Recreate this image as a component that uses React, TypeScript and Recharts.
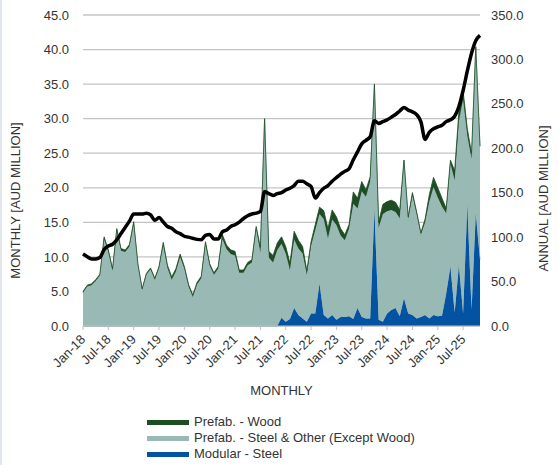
import { ComposedChart, Area, Line, XAxis, YAxis, CartesianGrid, Legend } from 'recharts'

const FONT = '"Liberation Sans", Arial, sans-serif'
const TEXT = '#333333'
const GRID = '#c4c4c4'

const MONTHS = [
  'Jan-18', 'Feb-18', 'Mar-18', 'Apr-18', 'May-18', 'Jun-18', 'Jul-18', 'Aug-18', 'Sep-18', 'Oct-18', 'Nov-18', 'Dec-18',
  'Jan-19', 'Feb-19', 'Mar-19', 'Apr-19', 'May-19', 'Jun-19', 'Jul-19', 'Aug-19', 'Sep-19', 'Oct-19', 'Nov-19', 'Dec-19',
  'Jan-20', 'Feb-20', 'Mar-20', 'Apr-20', 'May-20', 'Jun-20', 'Jul-20', 'Aug-20', 'Sep-20', 'Oct-20', 'Nov-20', 'Dec-20',
  'Jan-21', 'Feb-21', 'Mar-21', 'Apr-21', 'May-21', 'Jun-21', 'Jul-21', 'Aug-21', 'Sep-21', 'Oct-21', 'Nov-21', 'Dec-21',
  'Jan-22', 'Feb-22', 'Mar-22', 'Apr-22', 'May-22', 'Jun-22', 'Jul-22', 'Aug-22', 'Sep-22', 'Oct-22', 'Nov-22', 'Dec-22',
  'Jan-23', 'Feb-23', 'Mar-23', 'Apr-23', 'May-23', 'Jun-23', 'Jul-23', 'Aug-23', 'Sep-23', 'Oct-23', 'Nov-23', 'Dec-23',
  'Jan-24', 'Feb-24', 'Mar-24', 'Apr-24', 'May-24', 'Jun-24', 'Jul-24', 'Aug-24', 'Sep-24', 'Oct-24', 'Nov-24', 'Dec-24',
  'Jan-25', 'Feb-25', 'Mar-25', 'Apr-25', 'May-25', 'Jun-25', 'Jul-25', 'Aug-25', 'Sep-25', 'Oct-25', 'Nov-25',
]

// monthly, AUD million
const MODULAR_STEEL = [
  0, 0, 0, 0, 0, 0, 0, 0, 0, 0, 0, 0,
  0, 0, 0, 0, 0, 0, 0, 0, 0, 0, 0, 0,
  0, 0, 0, 0, 0, 0, 0, 0, 0, 0, 0, 0,
  0, 0, 0, 0, 0, 0, 0, 0, 0, 0, 0, 1.2,
  0.6, 1.0, 2.6, 1.6, 1.1, 0.6, 1.8, 1.8, 6.1, 1.6, 1.1, 1.6,
  0.9, 1.3, 1.3, 1.4, 1.0, 2.6, 1.3, 1.1, 1.1, 16.8, 0.9, 0.6,
  1.8, 2.3, 2.6, 1.4, 4.0, 1.8, 1.6, 1.1, 1.3, 1.6, 1.1, 1.6,
  1.4, 1.5, 4.7, 8.6, 1.9, 8.8, 1.8, 17.5, 2.3, 16.3, 9.6,
]

const PREFAB_STEEL_OTHER = [
  4.8, 5.7, 5.9, 6.5, 7.3, 12.6, 10.7, 8.0, 13.8, 10.9, 10.7, 11.5,
  14.8, 8.8, 5.2, 7.4, 8.2, 6.7, 8.4, 11.7, 8.4, 6.7, 7.9, 10.0,
  8.3, 5.7, 4.2, 6.0, 6.9, 11.9, 8.7, 7.4, 8.3, 12.6, 11.1, 10.4,
  10.2, 7.7, 7.7, 8.8, 9.2, 14.1, 10.6, 30.0, 9.9, 9.2, 11.0, 10.7,
  9.9, 7.1, 9.9, 9.6, 9.4, 6.8, 9.8, 12.1, 10.1, 13.9, 11.6, 13.8,
  13.7, 11.8, 11.1, 12.7, 16.7, 14.4, 18.2, 17.6, 19.8, 18.2, 13.3, 15.6,
  14.8, 14.5, 13.9, 14.2, 20.0, 13.7, 17.3, 15.1, 11.9, 13.4, 16.9, 18.5,
  17.2, 15.8, 11.6, 14.9, 19.2, 20.8, 31.0, 10.0, 21.9, 24.1, 16.4,
]

const PREFAB_WOOD = [
  0.2, 0.2, 0.2, 0.2, 0.2, 0.3, 0.3, 0.3, 0.3, 0.3, 0.3, 0.3,
  0.3, 0.2, 0.2, 0.2, 0.2, 0.2, 0.2, 0.4, 0.4, 0.4, 0.4, 0.4,
  0.3, 0.3, 0.3, 0.3, 0.3, 0.3, 0.3, 0.3, 0.3, 0.6, 0.6, 0.6,
  0.6, 0.4, 0.4, 0.4, 0.4, 0.3, 0.8, 0, 0.9, 1.0, 1.0, 1.0,
  1.0, 1.0, 1.2, 1.2, 1.0, 0.6, 0.6, 0.8, 1.0, 1.2, 1.4, 1.4,
  1.2, 1.0, 0.8, 0.6, 1.7, 1.5, 1.4, 1.0, 0.7, 0, 0.8, 1.4,
  1.4, 1.4, 1.4, 1.2, 0, 0.3, 0.4, 0.3, 0.3, 0.5, 1.0, 1.4,
  1.4, 1.2, 0.7, 0.5, 1.4, 1.4, 1.2, 1.0, 0.8, 0, 0,
]

// rolling annual, AUD million (right axis)
const ANNUAL = [
  81, 78, 75.5, 75.5, 77, 86, 90, 92, 97, 104, 111, 118,
  126, 126, 126, 127, 125, 119, 122, 117, 112, 110, 106, 104,
  101, 100, 98.7, 97.5, 97, 102, 103, 98, 98, 106, 108, 112,
  114, 117, 121, 124, 126, 127, 129, 151, 149, 147, 149, 150,
  153, 155, 158, 163, 163, 160, 157, 144, 150, 155, 158, 163,
  167, 171, 174, 177, 187, 196, 205, 209, 213, 231, 228, 230,
  232, 235, 238, 242, 246, 243, 241, 238, 230, 210, 218, 222,
  224, 226, 230, 232, 236, 247, 265, 287, 307, 321, 327,
]

const LEFT_TICKS = [0, 5, 10, 15, 20, 25, 30, 35, 40, 45]
const RIGHT_TICKS = [0, 50, 100, 150, 200, 250, 300, 350]

const SERIES = [
  { key: 'wood', name: 'Prefab. - Wood', color: '#1e4d24' },
  { key: 'steel', name: 'Prefab. - Steel & Other (Except Wood)', color: '#98b9b4' },
  { key: 'modular', name: 'Modular - Steel', color: '#0453a3' },
]

const data = MONTHS.map((month, i) => ({
  month,
  modular: MODULAR_STEEL[i],
  steel: PREFAB_STEEL_OTHER[i],
  wood: PREFAB_WOOD[i],
  annual: ANNUAL[i],
}))

const colorOf = (key: string) => SERIES.find(s => s.key === key)!.color

function MonthTick({ x, y, payload }: any) {
  return (
    <g transform={`translate(${x},${y + 5})`}>
      <text
        x={0}
        y={0}
        dy="0.35em"
        textAnchor="end"
        transform="rotate(-45)"
        fontSize={13}
        fontFamily={FONT}
        fill={TEXT}
      >
        {payload.value}
      </text>
    </g>
  )
}

function AxisTitle({ x, y, angle, text }: { x: number; y: number; angle: number; text: string }) {
  return (
    <text
      x={x}
      y={y}
      transform={angle ? `rotate(${angle} ${x} ${y})` : undefined}
      textAnchor="middle"
      dominantBaseline="central"
      fontSize={13}
      fontFamily={FONT}
      fill={TEXT}
    >
      {text}
    </text>
  )
}

function LegendBox() {
  return (
    <div style={{ fontFamily: FONT, fontSize: 13, color: TEXT, lineHeight: '16px' }}>
      {SERIES.map(s => (
        <div key={s.key} style={{ display: 'flex', alignItems: 'center', height: 16 }}>
          <span style={{ width: 42, height: 5, background: s.color, marginRight: 5, flexShrink: 0 }} />
          <span style={{ whiteSpace: 'nowrap' }}>{s.name}</span>
        </div>
      ))}
    </div>
  )
}

export default function App() {
  return (
    <div
      style={{
        position: 'absolute',
        left: 0,
        top: 0,
        width: 559,
        height: 465,
        background: '#fff',
        borderLeft: '2px solid #e2e7ee',
        boxSizing: 'border-box',
      }}
    >
      <ComposedChart
        width={557}
        height={465}
        data={data}
        margin={{ top: 15, right: 0, bottom: 79, left: 0 }}
        style={{ marginLeft: -2 }}
      >
        <CartesianGrid yAxisId="left" vertical={false} stroke={GRID} strokeWidth={1.3} />
        <XAxis
          dataKey="month"
          interval={5}
          height={60}
          tick={<MonthTick />}
          tickSize={4}
          tickMargin={2}
          axisLine={{ stroke: '#bfbfbf' }}
          tickLine={{ stroke: '#bfbfbf' }}
          label={{
            content: ({ viewBox }: any) => (
              <AxisTitle x={viewBox.x + viewBox.width / 2} y={viewBox.y + viewBox.height + 4} angle={0} text="MONTHLY" />
            ),
          }}
        />
        <YAxis
          yAxisId="left"
          orientation="left"
          width={83}
          domain={[0, 45]}
          ticks={LEFT_TICKS}
          interval={0}
          tickFormatter={(v: number) => v.toFixed(1)}
          axisLine={false}
          tickLine={false}
          tickMargin={8}
          tick={{ fontSize: 13, fill: TEXT, fontFamily: FONT }}
          label={{
            content: ({ viewBox }: any) => (
              <AxisTitle x={15} y={viewBox.y + viewBox.height / 2 + 30} angle={-90} text="MONTHLY [AUD MILLION]" />
            ),
          }}
        />
        <YAxis
          yAxisId="right"
          orientation="right"
          width={77}
          domain={[0, 350]}
          ticks={RIGHT_TICKS}
          interval={0}
          tickFormatter={(v: number) => v.toFixed(1)}
          axisLine={false}
          tickLine={false}
          tickMargin={5}
          tick={{ fontSize: 13, fill: TEXT, fontFamily: FONT }}
          label={{
            content: ({ viewBox }: any) => (
              <AxisTitle x={viewBox.x + 63} y={viewBox.y + viewBox.height / 2 + 28} angle={-90} text="ANNUAL [AUD MILLION]" />
            ),
          }}
        />
        <Area
          yAxisId="left"
          type="linear"
          dataKey="modular"
          stackId="m"
          name="Modular - Steel"
          fill={colorOf('modular')}
          stroke={colorOf('modular')}
          strokeWidth={0.5}
          fillOpacity={1}
          isAnimationActive={false}
        />
        <Area
          yAxisId="left"
          type="linear"
          dataKey="steel"
          stackId="m"
          name="Prefab. - Steel & Other (Except Wood)"
          fill={colorOf('steel')}
          stroke={colorOf('steel')}
          strokeWidth={0.8}
          fillOpacity={1}
          isAnimationActive={false}
        />
        <Area
          yAxisId="left"
          type="linear"
          dataKey="wood"
          stackId="m"
          name="Prefab. - Wood"
          fill={colorOf('wood')}
          stroke={colorOf('wood')}
          strokeWidth={0.8}
          fillOpacity={1}
          isAnimationActive={false}
        />
        <Line
          yAxisId="right"
          type="monotone"
          dataKey="annual"
          name="Annual"
          stroke="#000"
          strokeWidth={3.5}
          dot={false}
          activeDot={false}
          isAnimationActive={false}
        />
        <Legend
          layout="horizontal"
          verticalAlign="middle"
          align="center"
          wrapperStyle={{ top: 414, left: 147, width: 260 }}
          content={() => <LegendBox />}
        />
      </ComposedChart>
    </div>
  )
}
